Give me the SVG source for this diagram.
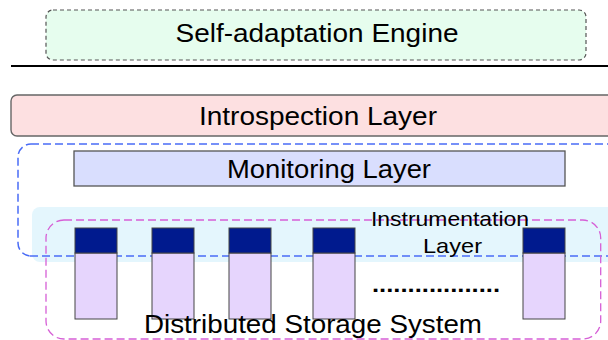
<svg xmlns="http://www.w3.org/2000/svg" width="608" height="340" viewBox="0 0 608 340">
<style>
text{font-family:"Liberation Sans",Arial,sans-serif;fill:#000;text-anchor:middle}
.t26{font-size:26px}
.t25{font-size:25px}
.t21{font-size:21px}
.col-top{fill:#001a8e;stroke:#444;stroke-width:1}
.col-bot{fill:#e6d5fd;stroke:#444;stroke-width:1}
</style>
<rect width="608" height="340" fill="#fff"/>
<g id="engine">
<rect x="46" y="10" width="540" height="50" rx="7" fill="#e6fdee" stroke="#555" stroke-width="1.2" stroke-dasharray="4 3"/>
<text class="t26" x="317" y="42" textLength="283" lengthAdjust="spacingAndGlyphs">Self-adaptation Engine</text>
</g>
<g id="separator">
<line x1="11" y1="66" x2="608" y2="66" stroke="#000" stroke-width="2"/>
</g>
<g id="introspection">
<rect x="11" y="95" width="610" height="41" rx="6" fill="#fde0e1" stroke="#666" stroke-width="1.4"/>
<text class="t26" x="318" y="124.5" textLength="238" lengthAdjust="spacingAndGlyphs">Introspection Layer</text>
</g>
<g id="monitoring-group">
<rect x="18" y="144" width="610" height="112" rx="13" fill="none" stroke="#4a6cf6" stroke-width="1.5" stroke-dasharray="8 4"/>
</g>
<g id="monitoring">
<rect x="74" y="151" width="491" height="35" fill="#d9defe" stroke="#555" stroke-width="1.3"/>
<text class="t25" x="329" y="178" textLength="204" lengthAdjust="spacingAndGlyphs">Monitoring Layer</text>
</g>
<g id="instrumentation">
<rect x="32" y="207" width="600" height="55" rx="8" fill="#e4f6fd"/>
</g>
<g id="blue-bottom">
<line x1="30" y1="256" x2="608" y2="256" stroke="#4a6cf6" stroke-width="1.5" stroke-dasharray="8 4"/>
</g>
<g id="storage">
<rect x="46" y="220" width="554.7" height="119" rx="18" fill="none" stroke="#d65fd6" stroke-width="1.3" stroke-dasharray="8 4"/>
</g>
<g id="instrumentation-label">
<text class="t21" x="450" y="226" textLength="158" lengthAdjust="spacingAndGlyphs">Instrumentation</text>
<text class="t21" x="452.5" y="253.3" textLength="59" lengthAdjust="spacingAndGlyphs">Layer</text>
</g>
<g id="node1"><rect class="col-bot" x="75" y="253" width="42" height="66"/><rect class="col-top" x="75" y="228" width="42" height="25"/></g>
<g id="node2"><rect class="col-bot" x="152" y="253" width="42" height="66"/><rect class="col-top" x="152" y="228" width="42" height="25"/></g>
<g id="node3"><rect class="col-bot" x="229" y="253" width="42" height="66"/><rect class="col-top" x="229" y="228" width="42" height="25"/></g>
<g id="node4"><rect class="col-bot" x="313" y="253" width="42" height="66"/><rect class="col-top" x="313" y="228" width="42" height="25"/></g>
<g id="node5"><rect class="col-bot" x="523" y="253" width="42" height="66"/><rect class="col-top" x="523" y="228" width="42" height="25"/></g>
<g id="ellipsis">
<text x="436" y="292" textLength="128" lengthAdjust="spacingAndGlyphs" style="font-size:22px;font-weight:bold">..................</text>
</g>
<g id="storage-label">
<text class="t25" x="313" y="333.3" textLength="338" lengthAdjust="spacingAndGlyphs">Distributed Storage System</text>
</g>
<g id="connectors"></g>
</svg>
